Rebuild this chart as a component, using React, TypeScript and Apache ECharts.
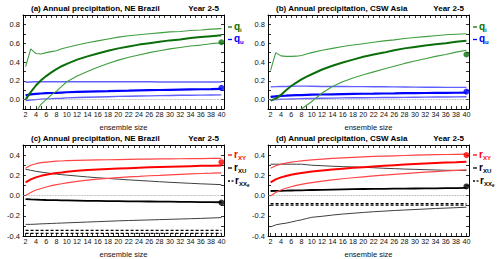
import React, { useEffect, useRef } from "react";
import * as echarts from "echarts";

// ensemble sizes at which values were read
const X = [2, 3, 4, 5, 6, 7, 8, 9, 10, 12, 14, 16, 18, 20, 22, 24, 26, 28, 30, 32, 34, 36, 38, 40];
const X_LABELS = [2, 4, 6, 8, 10, 12, 14, 16, 18, 20, 22, 24, 26, 28, 30, 32, 34, 36, 38, 40];
const X_TICKS = [2, 3, 4, 5, 6, 7, 8, 9, 10, 11, 12, 13, 14, 15, 16, 17, 18, 19, 20, 21, 22, 23, 24, 25, 26, 27, 28, 29, 30, 31, 32, 33, 34, 35, 36, 37, 38, 39, 40];
const Y_TOP_LABELS = [0, 0.2, 0.4, 0.6, 0.8];
const Y_TOP_TICKS = [-0.1, 0, 0.1, 0.2, 0.3, 0.4, 0.5, 0.6, 0.7, 0.8, 0.9];
const Y_BOT_LABELS = [-0.4, -0.2, 0, 0.2, 0.4];
const Y_BOT_TICKS = [-0.4, -0.3, -0.2, -0.1, 0, 0.1, 0.2, 0.3, 0.4, 0.5];

// (a) NE Brazil, q_i and q_u
const qiUpperA = [0.35, 0.54, 0.49, 0.485, 0.5, 0.51, 0.52, 0.54, 0.555, 0.58, 0.605, 0.625, 0.645, 0.665, 0.68, 0.69, 0.7, 0.71, 0.72, 0.725, 0.735, 0.74, 0.75, 0.755];
const qiMeanA = [0.0, 0.08, 0.15, 0.205, 0.25, 0.29, 0.325, 0.355, 0.38, 0.425, 0.46, 0.49, 0.52, 0.545, 0.565, 0.585, 0.6, 0.615, 0.63, 0.64, 0.655, 0.665, 0.675, 0.685];
const qiLowerA = [-0.6, -0.3, -0.13, -0.05, 0.0, 0.05, 0.09, 0.14, 0.19, 0.25, 0.3, 0.345, 0.385, 0.42, 0.45, 0.475, 0.5, 0.52, 0.54, 0.555, 0.57, 0.58, 0.595, 0.605];
const quUpperA = [0.185, 0.188, 0.19, 0.19, 0.19, 0.19, 0.19, 0.19, 0.19, 0.19, 0.19, 0.19, 0.19, 0.19, 0.19, 0.19, 0.19, 0.188, 0.188, 0.188, 0.188, 0.187, 0.187, 0.187];
const quMeanA = [0.045, 0.055, 0.06, 0.065, 0.068, 0.07, 0.072, 0.075, 0.078, 0.082, 0.085, 0.088, 0.09, 0.093, 0.095, 0.098, 0.1, 0.102, 0.104, 0.106, 0.108, 0.11, 0.112, 0.115];
const quLowerA = [-0.01, -0.005, 0.0, 0.005, 0.008, 0.01, 0.013, 0.015, 0.018, 0.022, 0.025, 0.028, 0.031, 0.034, 0.036, 0.038, 0.04, 0.042, 0.044, 0.046, 0.047, 0.048, 0.049, 0.05];
const qiDotA = 0.61;
const quDotA = 0.125;

// (b) CSW Asia, q_i and q_u
const qiUpperB = [0.31, 0.5, 0.465, 0.46, 0.46, 0.462, 0.47, 0.485, 0.5, 0.525, 0.545, 0.565, 0.58, 0.595, 0.61, 0.625, 0.635, 0.65, 0.66, 0.67, 0.68, 0.69, 0.695, 0.7];
const qiMeanB = [-0.01, 0.01, 0.05, 0.1, 0.145, 0.18, 0.215, 0.245, 0.27, 0.32, 0.36, 0.395, 0.425, 0.455, 0.48, 0.5, 0.525, 0.545, 0.56, 0.575, 0.59, 0.6, 0.615, 0.625];
const qiLowerB = [-0.7, -0.6, -0.5, -0.4, -0.3, -0.2, -0.1, -0.06, -0.02, 0.07, 0.14, 0.19, 0.23, 0.265, 0.295, 0.325, 0.355, 0.385, 0.41, 0.435, 0.46, 0.48, 0.505, 0.525];
const quUpperB = [0.135, 0.138, 0.14, 0.14, 0.142, 0.143, 0.143, 0.143, 0.142, 0.14, 0.14, 0.14, 0.138, 0.138, 0.137, 0.136, 0.135, 0.134, 0.133, 0.132, 0.131, 0.13, 0.13, 0.13];
const quMeanB = [0.03, 0.035, 0.04, 0.042, 0.045, 0.047, 0.048, 0.05, 0.052, 0.054, 0.056, 0.058, 0.06, 0.062, 0.063, 0.065, 0.066, 0.068, 0.069, 0.07, 0.071, 0.072, 0.073, 0.075];
const quLowerB = [-0.005, 0.0, 0.003, 0.005, 0.007, 0.008, 0.01, 0.011, 0.012, 0.014, 0.016, 0.018, 0.019, 0.02, 0.021, 0.022, 0.023, 0.024, 0.025, 0.026, 0.027, 0.028, 0.029, 0.03];
const qiDotB = 0.48;
const quDotB = 0.085;

// (c) NE Brazil, r_XY, r_XU, r_XXe
const rxyUpperC = [0.27, 0.3, 0.315, 0.325, 0.33, 0.335, 0.34, 0.342, 0.345, 0.348, 0.35, 0.352, 0.354, 0.356, 0.358, 0.36, 0.36, 0.362, 0.363, 0.364, 0.365, 0.366, 0.367, 0.368];
const rxyMeanC = [0.13, 0.16, 0.18, 0.195, 0.205, 0.215, 0.222, 0.228, 0.235, 0.245, 0.252, 0.258, 0.263, 0.267, 0.271, 0.275, 0.279, 0.282, 0.285, 0.288, 0.291, 0.294, 0.296, 0.298];
const rxyLowerC = [0.0, 0.03, 0.055, 0.07, 0.085, 0.098, 0.108, 0.117, 0.125, 0.14, 0.152, 0.162, 0.17, 0.178, 0.185, 0.19, 0.196, 0.2, 0.205, 0.21, 0.214, 0.218, 0.221, 0.225];
const rxuUpperC = [0.26, 0.25, 0.24, 0.232, 0.225, 0.218, 0.212, 0.207, 0.202, 0.193, 0.184, 0.176, 0.169, 0.162, 0.155, 0.149, 0.143, 0.137, 0.131, 0.126, 0.121, 0.116, 0.112, 0.108];
const rxuMeanC = [-0.035, -0.038, -0.04, -0.042, -0.044, -0.045, -0.046, -0.047, -0.048, -0.05, -0.052, -0.053, -0.055, -0.056, -0.057, -0.058, -0.059, -0.06, -0.061, -0.062, -0.063, -0.064, -0.065, -0.066];
const rxuLowerC = [-0.285, -0.285, -0.283, -0.28, -0.278, -0.276, -0.274, -0.272, -0.27, -0.266, -0.262, -0.258, -0.254, -0.25, -0.247, -0.244, -0.241, -0.238, -0.235, -0.232, -0.229, -0.226, -0.222, -0.218];
const rxxeC = [-0.345, -0.375];
const rxyDotC = 0.33;
const rxuDotC = -0.07;

// (d) CSW Asia, r_XY, r_XU, r_XXe
const rxyUpperD = [0.27, 0.295, 0.31, 0.32, 0.33, 0.337, 0.343, 0.348, 0.353, 0.36, 0.367, 0.373, 0.378, 0.383, 0.387, 0.39, 0.393, 0.396, 0.399, 0.402, 0.404, 0.406, 0.408, 0.41];
const rxyMeanD = [0.13, 0.16, 0.18, 0.193, 0.205, 0.215, 0.223, 0.23, 0.237, 0.248, 0.258, 0.266, 0.274, 0.281, 0.288, 0.294, 0.3, 0.306, 0.311, 0.316, 0.321, 0.326, 0.33, 0.335];
const rxyLowerD = [-0.005, 0.03, 0.055, 0.072, 0.087, 0.1, 0.11, 0.12, 0.128, 0.142, 0.155, 0.166, 0.176, 0.185, 0.194, 0.202, 0.21, 0.217, 0.224, 0.231, 0.237, 0.243, 0.249, 0.255];
const rxuUpperD = [0.31, 0.31, 0.31, 0.31, 0.31, 0.31, 0.31, 0.305, 0.3, 0.295, 0.29, 0.286, 0.283, 0.28, 0.275, 0.27, 0.266, 0.262, 0.259, 0.256, 0.253, 0.25, 0.249, 0.248];
const rxuMeanD = [0.045, 0.046, 0.047, 0.048, 0.05, 0.051, 0.052, 0.054, 0.055, 0.057, 0.059, 0.061, 0.063, 0.065, 0.066, 0.067, 0.068, 0.069, 0.07, 0.071, 0.072, 0.073, 0.074, 0.075];
const rxuLowerD = [-0.31, -0.29, -0.28, -0.273, -0.262, -0.25, -0.24, -0.227, -0.215, -0.205, -0.193, -0.183, -0.175, -0.167, -0.16, -0.154, -0.148, -0.143, -0.138, -0.133, -0.128, -0.124, -0.12, -0.115];
const rxxeD = [-0.08, -0.095];
const rxyDotD = 0.4;
const rxuDotD = 0.09;

const TITLES = [
  "(a) Annual precipitation, NE Brazil",
  "(b) Annual precipitation, CSW Asia",
  "(c) Annual precipitation, NE Brazil",
  "(d) Annual precipitation, CSW Asia",
];
const PERIOD = "Year 2-5";

const FONT = '"Liberation Sans", Arial, Helvetica, sans-serif';
const GREEN_THIN = "#3f9e3f";
const GREEN_THICK = "#0a6e0a";
const BLUE_THIN = "#6060ff";
const BLUE_THICK = "#0000ff";
const RED_THIN = "#ff4545";
const RED_THICK = "#ff0000";
const BLACK_THIN = "#404040";
const BLACK_THICK = "#000000";

const GRIDS = [
  { left: 23, top: 15, width: 201, height: 94 },
  { left: 268, top: 15, width: 201, height: 94 },
  { left: 23, top: 145, width: 201, height: 94 },
  { left: 268, top: 145, width: 201, height: 94 },
];

function pts(vals: number[]) {
  return X.map((x, i) => [x, vals[i]]);
}

function lineSeries(g: number, vals: number[], color: string, width: number, z = 2) {
  return {
    type: "line",
    xAxisIndex: 2 * g,
    yAxisIndex: 2 * g,
    data: pts(vals),
    symbol: "none",
    showSymbol: false,
    clip: true,
    z,
    lineStyle: { color, width },
  };
}

function levelSeries(g: number, v: number) {
  return {
    type: "line",
    xAxisIndex: 2 * g,
    yAxisIndex: 2 * g,
    data: [
      [X[0], v],
      [X[X.length - 1], v],
    ],
    symbol: "none",
    showSymbol: false,
    z: 2,
    lineStyle: { color: "#000", width: 1.3, type: [3, 2] },
  };
}

function dotSeries(g: number, v: number, color: string) {
  return {
    type: "scatter",
    xAxisIndex: 2 * g,
    yAxisIndex: 2 * g,
    data: [[X[X.length - 1], v]],
    symbol: "circle",
    symbolSize: 6,
    z: 5,
    itemStyle: { color },
  };
}

function zeroLine(g: number) {
  return {
    type: "line",
    xAxisIndex: 2 * g,
    yAxisIndex: 2 * g,
    data: [],
    markLine: {
      silent: true,
      symbol: "none",
      label: { show: false },
      lineStyle: { color: "#999", width: 0.8, type: "dotted" },
      data: [{ yAxis: 0 }],
    },
  };
}

function legendItem(x: number, y: number, color: string, main: string, sub: string, dashed = false, sub2 = "") {
  const els: any[] = [];
  if (dashed) {
    els.push({ type: "line", shape: { x1: x, y1: y, x2: x + 2, y2: y }, style: { stroke: color, lineWidth: 1.3 } });
    els.push({ type: "line", shape: { x1: x + 3.5, y1: y, x2: x + 5.5, y2: y }, style: { stroke: color, lineWidth: 1.3 } });
  } else {
    els.push({ type: "line", shape: { x1: x, y1: y, x2: x + 4, y2: y }, style: { stroke: color, lineWidth: 1.3 } });
  }
  const mx = x + (dashed ? 7 : 6);
  els.push({
    type: "text",
    x: mx,
    y: y - 1,
    style: { text: main, fill: color, font: `bold 10px ${FONT}`, align: "left", verticalAlign: "middle", textAlign: "left", textVerticalAlign: "middle" },
  });
  const sx = mx + (main === "q" ? 6 : 4);
  els.push({
    type: "text",
    x: sx,
    y: y + 2.5,
    style: { text: sub, fill: color, font: `bold 6px ${FONT}`, align: "left", verticalAlign: "middle", textAlign: "left", textVerticalAlign: "middle" },
  });
  if (sub2) {
    els.push({
      type: "text",
      x: sx + sub.length * 4,
      y: y + 4.5,
      style: { text: sub2, fill: color, font: `bold 4.5px ${FONT}`, align: "left", verticalAlign: "middle", textAlign: "left", textVerticalAlign: "middle" },
    });
  }
  return els;
}

export default function App() {
  const ref = useRef<HTMLDivElement>(null);
  useEffect(() => {
    if (!ref.current) return;
    const chart = echarts.init(ref.current, undefined, { renderer: "svg" });

    const xAxis: any[] = [];
    const yAxis: any[] = [];
    GRIDS.forEach((_, g) => {
      const topRow = g < 2;
      const yMin = topRow ? -0.1 : -0.4;
      const yMax = topRow ? 0.9 : 0.5;
      const yTicks = topRow ? Y_TOP_TICKS : Y_BOT_TICKS;
      const yLabels = topRow ? Y_TOP_LABELS : Y_BOT_LABELS;
      const axisLine = { show: true, onZero: false, lineStyle: { color: "#000", width: 1 } };
      xAxis.push({
        type: "value",
        gridIndex: g,
        position: "bottom",
        min: 1.5,
        max: 40.5,
        axisLine,
        axisTick: { show: true, inside: true, length: 3, customValues: X_TICKS, lineStyle: { color: "#000", width: 0.8 } },
        axisLabel: { show: true, customValues: X_LABELS, fontSize: 7.2, margin: 2, color: "#111", fontFamily: FONT },
        splitLine: { show: false },
        name: "ensemble size",
        nameLocation: "middle",
        nameGap: 14,
        nameTextStyle: { fontSize: 7.5, color: "#111", fontFamily: FONT },
      });
      xAxis.push({
        type: "value",
        gridIndex: g,
        position: "top",
        min: 1.5,
        max: 40.5,
        axisLine,
        axisTick: { show: true, inside: true, length: 3, customValues: X_TICKS, lineStyle: { color: "#000", width: 0.8 } },
        axisLabel: { show: false },
        splitLine: { show: false },
      });
      yAxis.push({
        type: "value",
        gridIndex: g,
        position: "left",
        min: yMin,
        max: yMax,
        axisLine,
        axisTick: { show: true, inside: true, length: 3, customValues: yTicks, lineStyle: { color: "#000", width: 0.8 } },
        axisLabel: {
          show: true,
          customValues: yLabels,
          fontSize: 7.5,
          margin: 3,
          color: "#111",
          fontFamily: FONT,
          formatter: (v: number) => (Math.abs(v) < 1e-9 ? "0.0" : v.toFixed(1)),
        },
        splitLine: { show: false },
      });
      yAxis.push({
        type: "value",
        gridIndex: g,
        position: "right",
        min: yMin,
        max: yMax,
        axisLine,
        axisTick: { show: true, inside: true, length: 3, customValues: yTicks, lineStyle: { color: "#000", width: 0.8 } },
        axisLabel: { show: false },
        splitLine: { show: false },
      });
    });

    const series: any[] = [
      // (a)
      zeroLine(0),
      lineSeries(0, quUpperA, BLUE_THIN, 1.4),
      lineSeries(0, quLowerA, BLUE_THIN, 1.4),
      lineSeries(0, quMeanA, BLUE_THICK, 2.2),
      lineSeries(0, qiUpperA, GREEN_THIN, 1.1, 3),
      lineSeries(0, qiLowerA, GREEN_THIN, 1.1, 3),
      lineSeries(0, qiMeanA, GREEN_THICK, 2, 3),
      dotSeries(0, qiDotA, GREEN_THICK),
      dotSeries(0, quDotA, BLUE_THICK),
      // (b)
      zeroLine(1),
      lineSeries(1, quUpperB, BLUE_THIN, 1.4),
      lineSeries(1, quLowerB, BLUE_THIN, 1.4),
      lineSeries(1, quMeanB, BLUE_THICK, 2.2),
      lineSeries(1, qiUpperB, GREEN_THIN, 1.1, 3),
      lineSeries(1, qiLowerB, GREEN_THIN, 1.1, 3),
      lineSeries(1, qiMeanB, GREEN_THICK, 2, 3),
      dotSeries(1, qiDotB, GREEN_THICK),
      dotSeries(1, quDotB, BLUE_THICK),
      // (c)
      zeroLine(2),
      lineSeries(2, rxuUpperC, BLACK_THIN, 1),
      lineSeries(2, rxuLowerC, BLACK_THIN, 1),
      lineSeries(2, rxuMeanC, BLACK_THICK, 1.8),
      levelSeries(2, rxxeC[0]),
      levelSeries(2, rxxeC[1]),
      lineSeries(2, rxyUpperC, RED_THIN, 1.2, 3),
      lineSeries(2, rxyLowerC, RED_THIN, 1.2, 3),
      lineSeries(2, rxyMeanC, RED_THICK, 2, 3),
      dotSeries(2, rxyDotC, RED_THICK),
      dotSeries(2, rxuDotC, BLACK_THICK),
      // (d)
      zeroLine(3),
      lineSeries(3, rxuUpperD, BLACK_THIN, 1),
      lineSeries(3, rxuLowerD, BLACK_THIN, 1),
      lineSeries(3, rxuMeanD, BLACK_THICK, 1.8),
      levelSeries(3, rxxeD[0]),
      levelSeries(3, rxxeD[1]),
      lineSeries(3, rxyUpperD, RED_THIN, 1.2, 3),
      lineSeries(3, rxyLowerD, RED_THIN, 1.2, 3),
      lineSeries(3, rxyMeanD, RED_THICK, 2, 3),
      dotSeries(3, rxyDotD, RED_THICK),
      dotSeries(3, rxuDotD, BLACK_THICK),
    ];

    const graphic: any[] = [];
    GRIDS.forEach((gr, g) => {
      graphic.push({
        type: "text",
        x: gr.left + 8,
        y: gr.top - 7,
        style: { text: TITLES[g], fill: "#000", font: `bold 8px ${FONT}`, align: "left", verticalAlign: "middle", textAlign: "left", textVerticalAlign: "middle" },
      });
      graphic.push({
        type: "text",
        x: gr.left + 196,
        y: gr.top - 7,
        style: { text: PERIOD, fill: "#000", font: `bold 8px ${FONT}`, align: "right", verticalAlign: "middle", textAlign: "right", textVerticalAlign: "middle" },
      });
      const lx = gr.left + gr.width + 4;
      if (g < 2) {
        graphic.push(...legendItem(lx, gr.top + 12, GREEN_THICK, "q", "i"));
        graphic.push(...legendItem(lx, gr.top + 24.5, BLUE_THICK, "q", "u"));
      } else {
        graphic.push(...legendItem(lx, gr.top + 10, RED_THICK, "r", "XY"));
        graphic.push(...legendItem(lx, gr.top + 23, "#000", "r", "XU"));
        graphic.push(...legendItem(lx, gr.top + 36, "#000", "r", "XX", true, "e"));
      }
    });

    chart.setOption({
      animation: false,
      backgroundColor: "#fff",
      textStyle: { fontFamily: FONT },
      grid: GRIDS.map((g) => ({ ...g, containLabel: false, show: false })),
      xAxis,
      yAxis,
      series,
      graphic,
    });
    return () => chart.dispose();
  }, []);
  return <div ref={ref} style={{ position: "fixed", left: 0, top: 0, width: 500, height: 259 }} />;
}
